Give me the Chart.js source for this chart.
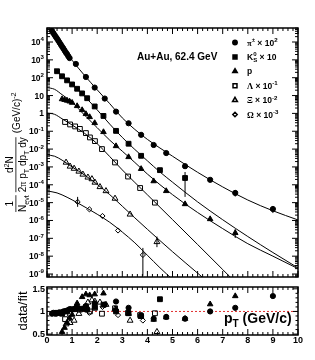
<!DOCTYPE html>
<html>
<head>
<meta charset="utf-8">
<script src="https://cdn.jsdelivr.net/npm/chart.js@4.4.1/dist/chart.umd.min.js"></script>
<style>
    body { margin: 0; background: #fff; }
    #wrap { position: relative; width: 315px; height: 360px; }
    #topBox { position: absolute; left: 0; top: 0; width: 315px; height: 285px; }
    #bottomBox { position: absolute; left: 0; top: 282px; width: 315px; height: 78px; }
</style>
</head>
<body>
<div id="wrap">
    <div id="topBox"><canvas id="spectra" width="315" height="285"></canvas></div>
    <div id="bottomBox"><canvas id="ratio" width="315" height="78"></canvas></div>
</div>
<script>
// ---- data (yields already scaled as in the legend) ----
const piPt = [0.2, 0.25, 0.3, 0.35, 0.4, 0.45, 0.5, 0.55, 0.6, 0.65, 0.7, 0.75, 0.8, 0.85, 0.9, 1.15, 1.55, 1.9, 2.3, 2.75, 3.25, 3.75, 4.25, 4.75, 5.5, 6.5, 7.5, 9.0];
const piYield = [4.2e4, 3.2e4, 2.5e4, 1.95e4, 1.55e4, 1.2e4, 9.3e3, 7.2e3, 5.6e3, 4.4e3, 3.4e3, 2.6e3, 2.1e3, 1.6e3, 1.26e3, 590, 110, 28, 6.8, 1.26, 0.28, 0.063, 0.017, 6.0e-3, 1.1e-3, 1.9e-4, 3.5e-5, 4.4e-6];
const piRatio = [0.95, 0.97, 0.96, 0.95, 0.96, 0.97, 0.98, 0.97, 0.98, 1.0, 1.0, 1.01, 1.02, 1.03, 1.05, 1.08, 1.12, 1.18, 1.15, 1.22, 1.08, 0.9, 0.84, 0.88, 0.84, 1.0, 1.08, 1.34];

const kPt = [0.4, 0.6, 0.8, 1.0, 1.2, 1.4, 1.6, 1.9, 2.25, 2.75, 3.25, 3.75, 4.5, 5.5];
const kYield = [230, 120, 71, 42, 24, 13.2, 7.1, 2.45, 0.72, 0.105, 0.02, 4.2e-3, 6.6e-4, 2.4e-4];
const kRatio = [0.97, 0.95, 1.0, 1.05, 1.08, 1.06, 1.04, 1.1, 1.15, 1.0, 0.96, 0.9, 1.27, null];

const pPt = [0.6, 0.7, 0.8, 0.9, 1.0, 1.2, 1.4, 1.55, 1.7, 1.9, 2.25, 2.75, 3.25, 3.75, 4.25, 4.75, 5.5, 6.5, 7.5];
const pYield = [6.3, 5.75, 5.25, 4.7, 4.0, 2.6, 1.55, 0.93, 0.63, 0.29, 0.091, 0.0148, 3.6e-3, 7.8e-4, 1.6e-4, 4.5e-5, 8.3e-6, 1.2e-6, 2.0e-7];
const pRatio = [0.55, 0.64, 0.75, 0.85, 0.93, 1.18, 1.32, 1.38, 1.36, 1.38, 1.4, 1.05, 0.95, 0.88, 0.82, 0.87, 0.84, 1.16, 1.34];

const lamPt = [0.72, 0.92, 1.12, 1.31, 1.55, 1.71, 1.91, 2.19, 2.71, 3.23, 3.71, 4.3];
const lamYield = [0.33, 0.24, 0.186, 0.135, 0.079, 0.045, 0.028, 0.01, 1.78e-3, 2.9e-4, 6.6e-5, 1.0e-5];
const lamRatio = [0.83, 0.95, 1.05, 1.04, 1.1, 1.0, 1.08, 0.95, 1.07, 0.97, 0.92, 0.96];

const xiPt = [0.76, 0.92, 1.08, 1.27, 1.43, 1.63, 1.79, 1.91, 2.11, 2.35, 2.71, 3.31, 4.38];
const xiYield = [1.78e-3, 1.07e-3, 8.1e-4, 5.6e-4, 3.8e-4, 2.6e-4, 2.1e-4, 1.35e-4, 7.6e-5, 4.5e-5, 1.7e-5, 2.2e-6, 6.3e-8];
const xiRatio = [0.72, 0.75, 0.8, 0.95, 1.05, 1.2, 1.25, 1.22, 1.2, 1.15, 1.05, 0.8, 0.55];

const omPt = [1.22, 1.69, 2.21, 2.83, 3.82];
const omYield = [1.1e-5, 4.2e-6, 1.78e-6, 2.75e-7, 1.17e-8];
const omRatio = [1.05, 0.97, 1.1, 0.92, 0.8];

// fit curves (knots)
const piFitPt = [0, 0.5, 1, 1.5, 2, 2.5, 3, 3.5, 4, 5, 6, 7, 8, 9, 10];
const piFit = [1e5, 9.3e3, 955, 132, 21, 3.5, 0.56, 0.126, 0.035, 4.0e-3, 5.0e-4, 7.6e-5, 1.4e-5, 3.5e-6, 1.07e-6];
const kFitPt = [0.3, 0.6, 1, 1.5, 2, 2.5, 3, 3.5, 4, 4.5, 5, 6, 7, 8, 9, 10];
const kFit = [316, 126, 40, 8.9, 1.58, 0.25, 0.045, 9.5e-3, 2.2e-3, 5.2e-4, 1.4e-4, 1.1e-5, 1.1e-6, 1.26e-7, 1.6e-8, 2.2e-9];
const pFitPt = [0, 0.3, 0.6, 1, 1.5, 2, 2.5, 3, 3.5, 4, 5, 6, 7, 8, 9, 10];
const pFit = [28, 22.4, 11.2, 4.2, 0.79, 0.158, 0.0316, 7.6e-3, 1.78e-3, 4.0e-4, 2.8e-5, 2.8e-6, 3.5e-7, 5.0e-8, 1.0e-8, 2.0e-9];
const lamFitPt = [0, 0.3, 0.6, 1, 1.5, 2, 2.5, 3, 3.5, 4, 5, 6, 7, 7.5];
const lamFit = [1.05, 0.89, 0.5, 0.224, 0.076, 0.02, 3.8e-3, 6.8e-4, 1.35e-4, 2.75e-5, 1.12e-6, 4.5e-8, 1.78e-9, 3.5e-10];
const xiFitPt = [0, 0.3, 0.6, 1, 1.5, 2, 2.5, 3, 3.5, 4, 5, 6, 6.5];
const xiFit = [4.7e-3, 4.0e-3, 2.4e-3, 1.0e-3, 3.5e-4, 1.05e-4, 2.8e-5, 6.3e-6, 1.4e-6, 3.2e-7, 1.78e-8, 1.12e-9, 2.8e-10];
const omFitPt = [0, 0.4, 0.8, 1.2, 1.6, 2, 2.5, 3, 3.5, 4, 4.5, 5];
const omFit = [4.5e-5, 3.5e-5, 2.0e-5, 1.0e-5, 4.8e-6, 2.24e-6, 7.9e-7, 2.24e-7, 5.6e-8, 1.12e-8, 2.24e-9, 5.0e-10];

// vertical error bars: pT, upper, lower
const errPt = [7.5, 9.0, 5.5, 7.5, 4.38, 1.22, 3.82];
const errHi = [5.0e-5, 6.3e-6, 5.2e-4, 3.2e-7, 1.26e-7, 2.1e-5, 2.9e-8];
const errLo = [2.2e-5, 2.6e-6, 2.1e-5, 1.05e-7, 3.2e-8, 5.8e-6, 7.9e-10];

// axes
const xTicks = [0, 1, 2, 3, 4, 5, 6, 7, 8, 9, 10];
const xTickLabels = ['0', '1', '2', '3', '4', '5', '6', '7', '8', '9', '10'];
const yTicks = [1e4, 1e3, 1e2, 10, 1, 1e-1, 1e-2, 1e-3, 1e-4, 1e-5, 1e-6, 1e-7, 1e-8, 1e-9];
const yTickLabels = ['10^4', '10^3', '10^2', '10', '1', '10^-1', '10^-2', '10^-3', '10^-4', '10^-5', '10^-6', '10^-7', '10^-8', '10^-9'];
const ratioTicks = [0.5, 1, 1.5];
const ratioTickLabels = ['0.5', '1', '1.5'];

const SANS = '"Liberation Sans", Arial, Helvetica, sans-serif';
const SERIF = '"Liberation Serif", "Times New Roman", serif';

// text with super/subscripts: kind '' normal, 'g' greek, '^' sup, '^0' sup w/o advance, '_' sub
function rich(ctx, x, y, parts, size, weight, draw = true) {
    let cx = x;
    for (const [t, k] of parts) {
        let fs = size, dy = 0, fam = SANS;
        if (k === 'g') fam = SERIF;
        if (k[0] === '^') { fs = size * 0.72; dy = -size * 0.42; }
        if (k === '_') { fs = size * 0.72; dy = size * 0.28; }
        ctx.font = `${weight || 'normal'} ${fs}px ${fam}`;
        if (draw) ctx.fillText(t, cx, y + dy);
        if (k !== '^0') cx += ctx.measureText(t).width;
    }
    return cx - x;
}

function powParts(label) {
    const s = label.split('^');
    return s.length > 1 ? [[s[0], ''], [s[1], '^']] : [[s[0], '']];
}

function innerTicks(ctx, a, xs, ys, lx, ly) {
    ctx.beginPath();
    for (const px of xs) {
        ctx.moveTo(px, a.bottom); ctx.lineTo(px, a.bottom - lx);
        ctx.moveTo(px, a.top); ctx.lineTo(px, a.top + lx);
    }
    for (const py of ys) {
        ctx.moveTo(a.left, py); ctx.lineTo(a.left + ly, py);
        ctx.moveTo(a.right, py); ctx.lineTo(a.right - ly, py);
    }
    ctx.stroke();
}

function xMinorPixels(x) {
    const out = [];
    for (let i = 1; i < 50; i++) {
        if (i % 5) out.push(x.getPixelForValue(i * 0.2));
    }
    return out;
}

function pts(xs, ys) {
    return xs.map((v, i) => ({x: v, y: ys[i]}));
}

function markers(label, xs, ys, style, radius, filled) {
    return {
        label: label,
        data: pts(xs, ys),
        pointStyle: style,
        pointRadius: radius,
        pointBorderWidth: 1,
        pointBorderColor: '#000',
        pointBackgroundColor: filled ? '#000' : 'rgba(0,0,0,0)',
        showLine: false,
        order: 1
    };
}

function fitLine(xs, ys) {
    return {
        data: pts(xs, ys),
        showLine: true,
        borderColor: '#000',
        borderWidth: 1,
        pointRadius: 0,
        cubicInterpolationMode: 'monotone',
        fill: false,
        clip: 0,
        order: 2
    };
}

const legendRows = [
    {style: 'circle', r: 2.2, filled: true, parts: [['π', 'g'], ['±', '^'], [' × 10', ''], ['2', '^']]},
    {style: 'rect', r: 2.8, filled: true, parts: [['K', ''], ['0', '^0'], ['S', '_'], [' × 10', '']]},
    {style: 'triangle', r: 2.6, filled: true, parts: [['p', '']]},
    {style: 'rect', r: 2.8, filled: false, parts: [['Λ', 'g'], [' × 10', ''], ['-1', '^']]},
    {style: 'triangle', r: 2.8, filled: false, parts: [['Ξ', 'g'], [' × 10', ''], ['-2', '^']]},
    {style: 'rectRot', r: 2.2, filled: false, parts: [['Ω', 'g'], [' × 10', ''], ['-3', '^']]}
];

const spectraDecor = {
    id: 'spectraDecor',
    afterDatasetsDraw(chart) {
        const {ctx, scales: {x, y}} = chart;
        ctx.save();
        ctx.strokeStyle = '#000';
        ctx.lineWidth = 1;
        for (let i = 0; i < errPt.length; i++) {
            const px = x.getPixelForValue(errPt[i]);
            ctx.beginPath();
            ctx.moveTo(px, y.getPixelForValue(errHi[i]));
            ctx.lineTo(px, y.getPixelForValue(errLo[i]));
            ctx.stroke();
        }
        ctx.restore();
    },
    afterDraw(chart) {
        const {ctx, chartArea: a, scales: {x, y}} = chart;
        ctx.save();
        ctx.strokeStyle = '#000';
        ctx.fillStyle = '#000';

        // ticks on all four sides, pointing inwards
        ctx.lineWidth = 1;
        const yMinor = [];
        for (let e = -10; e <= 4; e++) {
            for (let m = 2; m <= 9; m++) {
                const v = m * Math.pow(10, e);
                if (v > y.min && v < y.max) yMinor.push(y.getPixelForValue(v));
            }
        }
        innerTicks(ctx, a, xTicks.map(v => x.getPixelForValue(v)), yTicks.map(v => y.getPixelForValue(v)), 6, 6);
        innerTicks(ctx, a, xMinorPixels(x), yMinor, 3, 3);

        ctx.lineWidth = 1.5;
        ctx.strokeRect(a.left, a.top, a.right - a.left, a.bottom - a.top);

        // y tick labels
        ctx.textBaseline = 'alphabetic';
        yTicks.forEach((v, i) => {
            const parts = powParts(yTickLabels[i]);
            const w = rich(ctx, 0, 0, parts, 8.5, 'bold', false);
            rich(ctx, a.left - 3 - w, y.getPixelForValue(v) + 3, parts, 8.5, 'bold');
        });

        // y axis title
        ctx.save();
        ctx.translate(16, 212);
        ctx.rotate(-Math.PI / 2);
        const fs = 10;
        const den1 = [['N', ''], ['evt', '_']];
        const w1 = rich(ctx, 0, 10, den1, fs);
        const wOne = rich(ctx, 0, 0, [['1', '']], fs, 'normal', false);
        rich(ctx, (w1 - wOne) / 2, -3, [['1', '']], fs);
        ctx.fillRect(0, -0.5, w1, 0.8);
        const x2 = w1 + 3;
        const den2 = [['2', ''], ['π', 'g'], [' p', ''], ['T', '_'], [' dp', ''], ['T', '_'], [' dy', '']];
        const w2 = rich(ctx, x2, 10, den2, fs);
        const num2 = [['d', ''], ['2', '^'], ['N', '']];
        const wNum = rich(ctx, 0, 0, num2, fs, 'normal', false);
        rich(ctx, x2 + (w2 - wNum) / 2, -3, num2, fs);
        ctx.fillRect(x2, -0.5, w2, 0.8);
        rich(ctx, x2 + w2 + 4, 4, [['(GeV/c)', ''], ['-2', '^']], fs);
        ctx.restore();

        // system label
        ctx.font = `bold 10px ${SANS}`;
        ctx.fillText('Au+Au, 62.4 GeV', 137, 60);

        // legend
        legendRows.forEach((row, i) => {
            const ry = 42.5 + i * 14.4;
            ctx.fillStyle = row.filled ? '#000' : 'rgba(0,0,0,0)';
            ctx.strokeStyle = '#000';
            Chart.helpers.drawPoint(ctx, {pointStyle: row.style, radius: row.r, borderWidth: 1, rotation: 0}, 235, ry);
            ctx.fillStyle = '#000';
            rich(ctx, 247, ry + 3, row.parts, 8.5, 'bold');
        });
        ctx.restore();
    }
};

const ratioDecor = {
    id: 'ratioDecor',
    beforeDatasetsDraw(chart) {
        const {ctx, chartArea: a, scales: {y}} = chart;
        const py = y.getPixelForValue(1);
        ctx.save();
        ctx.strokeStyle = '#e03030';
        ctx.lineWidth = 1;
        ctx.setLineDash([2, 2]);
        ctx.beginPath();
        ctx.moveTo(a.left, py);
        ctx.lineTo(a.right, py);
        ctx.stroke();
        ctx.restore();
    },
    afterDraw(chart) {
        const {ctx, chartArea: a, scales: {x, y}} = chart;
        ctx.save();
        ctx.strokeStyle = '#000';
        ctx.fillStyle = '#000';
        ctx.lineWidth = 1;
        const yMinor = [];
        for (let i = 5; i <= 15; i++) {
            if (i % 5) yMinor.push(y.getPixelForValue(i / 10));
        }
        innerTicks(ctx, a, xTicks.map(v => x.getPixelForValue(v)), ratioTicks.map(v => y.getPixelForValue(v)), 6, 5);
        innerTicks(ctx, a, xMinorPixels(x), yMinor, 3, 2.5);
        ctx.lineWidth = 1.5;
        ctx.strokeRect(a.left, a.top, a.right - a.left, a.bottom - a.top);

        // tick labels
        ctx.font = `bold 9px ${SANS}`;
        ctx.textAlign = 'right';
        ratioTicks.forEach((v, i) => ctx.fillText(ratioTickLabels[i], a.left - 2, y.getPixelForValue(v) + 3));
        ctx.textAlign = 'center';
        xTicks.forEach((v, i) => ctx.fillText(xTickLabels[i], x.getPixelForValue(v), a.bottom + 8));

        // axis titles
        ctx.save();
        ctx.translate(27, (a.top + a.bottom) / 2);
        ctx.rotate(-Math.PI / 2);
        ctx.font = `13px ${SANS}`;
        ctx.fillText('data/fit', 0, 0);
        ctx.restore();
        ctx.textAlign = 'left';
        rich(ctx, 224, 41, [['p', ''], ['T', '_'], [' (GeV/c)', '']], 14, 'bold');
        ctx.restore();
    }
};

const commonOptions = {
    responsive: false,
    animation: false,
    events: [],
    devicePixelRatio: 1,
    plugins: {legend: {display: false}, tooltip: {enabled: false}}
};

new Chart(document.getElementById('spectra'), {
    type: 'scatter',
    data: {
        datasets: [
            markers('pi', piPt, piYield, 'circle', 2.6, true),
            markers('K0S', kPt, kYield, 'rect', 3.4, true),
            markers('p', pPt, pYield, 'triangle', 3.2, true),
            markers('Lambda', lamPt, lamYield, 'rect', 3.4, false),
            markers('Xi', xiPt, xiYield, 'triangle', 3.4, false),
            markers('Omega', omPt, omYield, 'rectRot', 2.6, false),
            fitLine(piFitPt, piFit),
            fitLine(kFitPt, kFit),
            fitLine(pFitPt, pFit),
            fitLine(lamFitPt, lamFit),
            fitLine(xiFitPt, xiFit),
            fitLine(omFitPt, omFit)
        ]
    },
    options: {
        ...commonOptions,
        layout: {padding: {left: 47, right: 17, top: 28, bottom: 8}},
        scales: {
            x: {type: 'linear', min: 0, max: 10, display: false},
            y: {type: 'logarithmic', min: 6.8e-10, max: 6.1e4, display: false}
        }
    },
    plugins: [spectraDecor]
});

new Chart(document.getElementById('ratio'), {
    type: 'scatter',
    data: {
        datasets: [
            markers('pi', piPt, piRatio, 'circle', 2.6, true),
            markers('K0S', kPt, kRatio, 'rect', 3.4, true),
            markers('p', pPt, pRatio, 'triangle', 3.2, true),
            markers('Lambda', lamPt, lamRatio, 'rect', 3.4, false),
            markers('Xi', xiPt, xiRatio, 'triangle', 3.4, false),
            markers('Omega', omPt, omRatio, 'rectRot', 2.6, false)
        ]
    },
    options: {
        ...commonOptions,
        layout: {padding: {left: 47, right: 17, top: 5, bottom: 25}},
        scales: {
            x: {type: 'linear', min: 0, max: 10, display: false},
            y: {type: 'linear', min: 0.48, max: 1.54, display: false}
        }
    },
    plugins: [ratioDecor]
});
</script>
</body>
</html>
